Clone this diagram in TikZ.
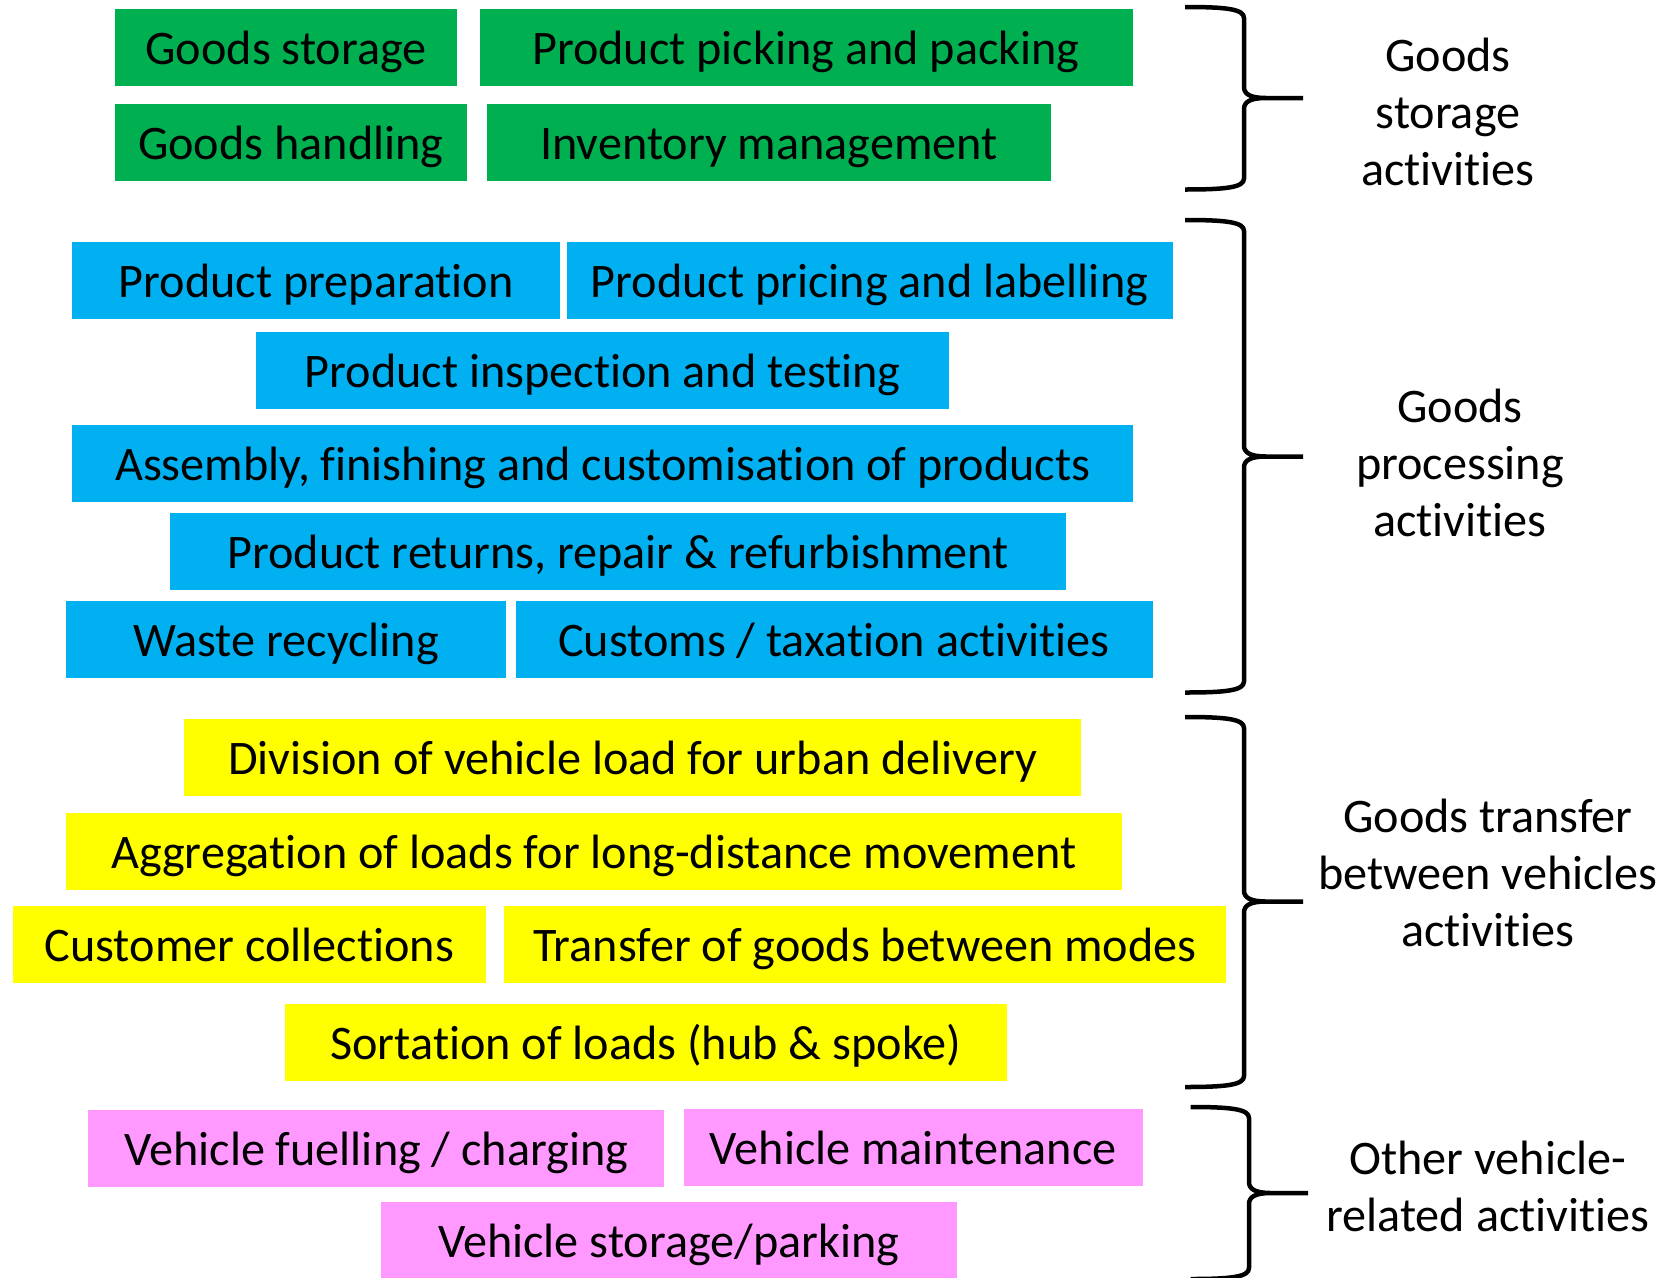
\documentclass[tikz,border=0pt]{standalone}
\usepackage{fontspec}
\setmainfont[Ligatures=NoCommon]{Carlito}
\definecolor{cgreen}{HTML}{00B050}
\definecolor{cblue}{HTML}{00B0F0}
\definecolor{cyellow}{HTML}{FFFF00}
\definecolor{cpink}{HTML}{FF99FF}
\newcommand\mybrace[6]{%
  \draw[bracestyle] (#1,#4) .. controls ({#2-18},#4) and (#2,{#4+2}) .. (#2,{#4+11})
    -- (#2,{#5-11}) .. controls (#2,{#5-4}) and ({#2+6},#5) .. ({#2+22},#5) -- (#3,#5)
    (#3,#5) -- ({#2+22},#5) .. controls ({#2+6},#5) and (#2,{#5+4}) .. (#2,{#5+11})
    -- (#2,{#6-11}) .. controls (#2,{#6-2}) and ({#2-18},#6) .. (#1,#6);}
\begin{document}
\begin{tikzpicture}[x=1pt,y=-1pt,
  every node/.style={font=\fontsize{48.2}{57}\selectfont, text=black},
  box/.style={inner sep=0pt, text height=34pt, text depth=0pt, minimum height=77pt, anchor=center},
  gbox/.style={box, fill=cgreen, minimum width=#1},
  bbox/.style={box, fill=cblue, minimum width=#1},
  ybox/.style={box, fill=cyellow, minimum width=#1},
  pbox/.style={box, fill=cpink, minimum width=#1},
  lab/.style={align=center, anchor=center, inner sep=0pt},
  bracestyle/.style={line width=4.5pt, line join=round, line cap=butt}]
\useasboundingbox (0,0) rectangle (1667,1277);
% green
\node[gbox=342pt] (gs) at (286,47) {Goods storage};
\node[gbox=653pt] (pp) at (806,47) {Product picking and packing};
\node[gbox=352pt] (gh) at (290.8,142) {Goods handling};
\node[gbox=564.5pt] (im) at (769,142) {Inventory management};
% blue
\node[bbox=488pt] (pprep) at (316.3,280) {Product preparation};
\node[bbox=606pt] (pprice) at (869.6,280) {Product pricing and labelling};
\node[bbox=693pt] (pinsp) at (602.8,370) {Product inspection and testing};
\node[bbox=1061pt] (asm) at (602.9,463) {Assembly, finishing and customisation of products};
\node[bbox=896pt] (ret) at (618.2,551) {Product returns, repair \& refurbishment};
\node[bbox=440pt] (waste) at (286,639) {Waste recycling};
\node[bbox=637pt] (cust) at (834,639) {Customs / taxation activities};
% yellow
\node[ybox=897pt] (div) at (632.6,757.6) {Division of vehicle load for urban delivery};
\node[ybox=1056pt] (agg) at (593.8,851.7) {Aggregation of loads for long-distance movement};
\node[ybox=473pt] (ccol) at (249.3,944) {Customer collections};
\node[ybox=722pt] (tr) at (864.9,944) {Transfer of goods between modes};
\node[ybox=722pt] (sort) at (645.9,1042.8) {Sortation of loads (hub \& spoke)};
% pink
\node[pbox=576pt] (fuel) at (376.3,1148.6) {Vehicle fuelling / charging};
\node[pbox=459pt] (maint) at (913.2,1147.9) {Vehicle maintenance};
\node[pbox=576pt] (park) at (668.7,1240.8) {Vehicle storage/parking};
% braces
\mybrace{1185}{1244}{1303}{7}{98}{189.5}
\mybrace{1185}{1244}{1303}{220}{456.5}{692.5}
\mybrace{1185}{1244}{1303}{717}{901.5}{1087}
\mybrace{1190.5}{1249}{1308}{1107}{1193}{1279}
% labels
\node[lab] (l1) at (1448,111.5) {Goods\\storage\\activities};
\node[lab] (l2) at (1460,462.5) {Goods\\processing\\activities};
\node[lab] (l3) at (1488,872.5) {Goods transfer\\between vehicles\\activities};
\node[lab] (l4) at (1488,1186) {Other vehicle-\\related activities};
\end{tikzpicture}
\end{document}
